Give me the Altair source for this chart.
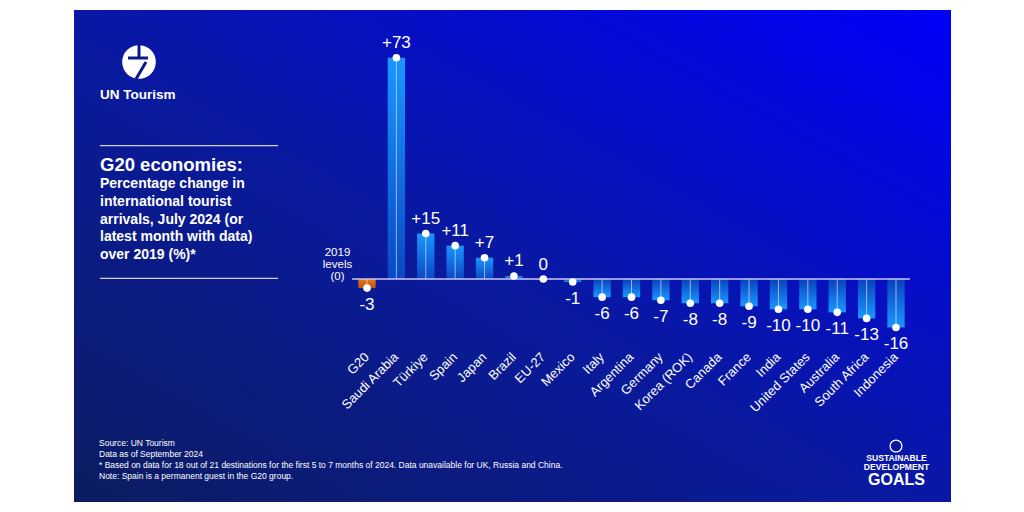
import altair as alt
import pandas as pd

# ---------------- data ----------------
countries = ["G20", "Saudi Arabia", "Türkiye", "Spain", "Japan", "Brazil", "EU-27",
             "Mexico", "Italy", "Argentina", "Germany", "Korea (ROK)", "Canada",
             "France", "India", "United States", "Australia", "South Africa", "Indonesia"]
values = [-3, 73, 15, 11, 7, 1, 0, -1, -6, -6, -7, -8, -8, -9, -10, -10, -11, -13, -16]

title_main = "G20 economies:"
subtitle_lines = ["Percentage change in", "international tourist",
                  "arrivals, July 2024 (or", "latest month with data)", "over 2019 (%)*"]
footer_lines = ["Source: UN Tourism", "Data as of September 2024",
                "* Based on data for 18 out of 21 destinations for the first 5 to 7 months of 2024. Data unavailable for UK, Russia and China.",
                "Note: Spain is a permanent guest in the G20 group."]
ref_lines = ["2019", "levels", "(0)"]

FONT = "Liberation Sans"

df = pd.DataFrame({"country": countries, "value": values})
df["label"] = [("+%d" % v) if v > 0 else str(v) for v in values]
df["kind"] = ["g20" if c == "G20" else ("pos" if v >= 0 else "neg") for c, v in zip(countries, values)]

base = alt.Chart(df)
xenc = alt.X("country:N", sort=countries, axis=None,
             scale=alt.Scale(range=[352.3, 910.7], paddingInner=0.41, paddingOuter=0.205))
yscale = alt.Scale(domain=[-20, 80], range=[339.6, 36.6], nice=False, zero=False)
yenc = alt.Y("value:Q", scale=yscale, axis=None)

one = alt.Data(values=[{}])

def grad(stops, x1=0, y1=0, x2=0, y2=1):
    return {"gradient": "linear", "x1": x1, "y1": y1, "x2": x2, "y2": y2,
            "stops": [{"offset": o, "color": c} for o, c in stops]}

# background panel
bg = alt.Chart(one).mark_rect(
    color=grad([(0, "#0c1c60"), (0.45, "#0a1a9c"), (1, "#0000fa")], x1=0, y1=1, x2=1, y2=0)
).encode(x=alt.value(74), x2=alt.value(951), y=alt.value(10), y2=alt.value(502))

# bars
bars_pos = base.transform_filter("datum.kind == 'pos'").mark_bar(
    color=grad([(0, "#1a96ff"), (1, "#0a48c4")])
).encode(x=xenc, y=yenc, y2=alt.datum(0))
bars_neg = base.transform_filter("datum.kind == 'neg'").mark_bar(
    color=grad([(0, "#0a40bc"), (1, "#1a98ff")])
).encode(x=xenc, y=yenc, y2=alt.datum(0))
bars_g20 = base.transform_filter("datum.kind == 'g20'").mark_bar(
    color=grad([(0, "#e8781a"), (1, "#b85214")])
).encode(x=xenc, y=yenc, y2=alt.datum(0))

stems = base.mark_rule(color="#ffffff", opacity=0.55, strokeWidth=1).encode(
    x=xenc, y=yenc, y2=alt.datum(0))

zero_line = alt.Chart(one).mark_rule(color="#c8c8f4", strokeWidth=1.5).encode(
    x=alt.value(352), x2=alt.value(910), y=alt.Y(datum=0, scale=yscale, axis=None))

dots = base.mark_circle(color="white", opacity=1, size=58).encode(x=xenc, y=yenc)

lab_pos = base.transform_filter("datum.value >= 0").mark_text(
    color="white", font=FONT, fontSize=17, baseline="alphabetic", dy=-9.5
).encode(x=xenc, y=yenc, text="label:N")
lab_neg = base.transform_filter("datum.value < 0").mark_text(
    color="white", font=FONT, fontSize=17, baseline="alphabetic", dy=22
).encode(x=xenc, y=yenc, text="label:N")

cat_labels = base.mark_text(
    color="white", font=FONT, fontSize=13, angle=315, align="right", baseline="middle"
).encode(x=xenc, y=alt.value(355), text="country:N")

# reference annotation "2019 levels (0)"
ref_df = pd.DataFrame({"t": ref_lines, "i": list(range(len(ref_lines)))})
ref_text = alt.Chart(ref_df).mark_text(
    color="white", font=FONT, fontSize=11.5, align="center", baseline="middle"
).encode(x=alt.value(337.5), y=alt.Y("i:Q", scale=alt.Scale(domain=[0, 2], range=[253.3, 276.7]), axis=None),
         text="t:N")

# left titles
title_t = alt.Chart(one).mark_text(
    text=title_main, color="white", font=FONT, fontSize=18.5, fontWeight="bold",
    align="left", baseline="middle").encode(x=alt.value(100), y=alt.value(165))
sub_df = pd.DataFrame({"t": subtitle_lines, "i": list(range(len(subtitle_lines)))})
sub_t = alt.Chart(sub_df).mark_text(
    color="white", font=FONT, fontSize=14, fontWeight="bold", align="left", baseline="middle"
).encode(x=alt.value(100), y=alt.Y("i:Q", scale=alt.Scale(domain=[0, 4], range=[184.3, 255]), axis=None),
         text="t:N")
sep1 = alt.Chart(one).mark_rule(color="white", strokeWidth=1).encode(
    x=alt.value(100), x2=alt.value(278), y=alt.value(145.7))
sep2 = alt.Chart(one).mark_rule(color="white", strokeWidth=1).encode(
    x=alt.value(100), x2=alt.value(278), y=alt.value(278.3))

# logo
logo_c = alt.Chart(one).mark_circle(color="white", opacity=1, size=1130).encode(
    x=alt.value(139), y=alt.value(62))
logo_g1 = alt.Chart(one).mark_rule(color="#0a1a86", strokeWidth=3).encode(
    x=alt.value(139), x2=alt.value(139), y=alt.value(42), y2=alt.value(58))
logo_g2 = alt.Chart(one).mark_rule(color="#0a1a86", strokeWidth=3).encode(
    x=alt.value(128), x2=alt.value(148), y=alt.value(58), y2=alt.value(58))
logo_g3 = alt.Chart(one).mark_rule(color="#0a1a86", strokeWidth=3).encode(
    x=alt.value(146), x2=alt.value(136), y=alt.value(62), y2=alt.value(79))
logo_t = alt.Chart(one).mark_text(
    text="UN Tourism", color="white", font=FONT, fontSize=13.5, fontWeight="bold",
    align="left", baseline="middle").encode(x=alt.value(100), y=alt.value(95))

# footer
foot_df = pd.DataFrame({"t": footer_lines, "i": list(range(len(footer_lines)))})
foot_t = alt.Chart(foot_df).mark_text(
    color="white", font=FONT, fontSize=8.5, align="left", baseline="middle"
).encode(x=alt.value(99), y=alt.Y("i:Q", scale=alt.Scale(domain=[0, 3], range=[442.7, 476]), axis=None),
         text="t:N")

# SDG mark
sdg_em = alt.Chart(one).mark_point(color="white", filled=False, size=140, strokeWidth=1.3, opacity=1).encode(
    x=alt.value(896), y=alt.value(446))
sdg_t1 = alt.Chart(one).mark_text(text="SUSTAINABLE", color="white", font=FONT, fontSize=8.6,
                                  fontWeight="bold", align="center", baseline="middle").encode(
    x=alt.value(896.5), y=alt.value(458.3))
sdg_t2 = alt.Chart(one).mark_text(text="DEVELOPMENT", color="white", font=FONT, fontSize=8.6,
                                  fontWeight="bold", align="center", baseline="middle").encode(
    x=alt.value(896.5), y=alt.value(466.5))
sdg_t3 = alt.Chart(one).mark_text(text="GOALS", color="white", font=FONT, fontSize=16,
                                  fontWeight="bold", align="center", baseline="middle").encode(
    x=alt.value(896.5), y=alt.value(479.5))

chart = alt.layer(
    bg, bars_pos, bars_neg, bars_g20, stems, zero_line, dots, lab_pos, lab_neg, cat_labels,
    ref_text, title_t, sub_t, sep1, sep2, logo_c, logo_g1, logo_g2, logo_g3, logo_t,
    foot_t, sdg_em, sdg_t1, sdg_t2, sdg_t3
).resolve_scale(y="independent").properties(
    width=1024, height=512, autosize=alt.AutoSizeParams(type="none"), padding=0, background="white"
).configure_view(stroke=None)

chart.save("out.html", embed_options={"renderer": "svg", "actions": False})
